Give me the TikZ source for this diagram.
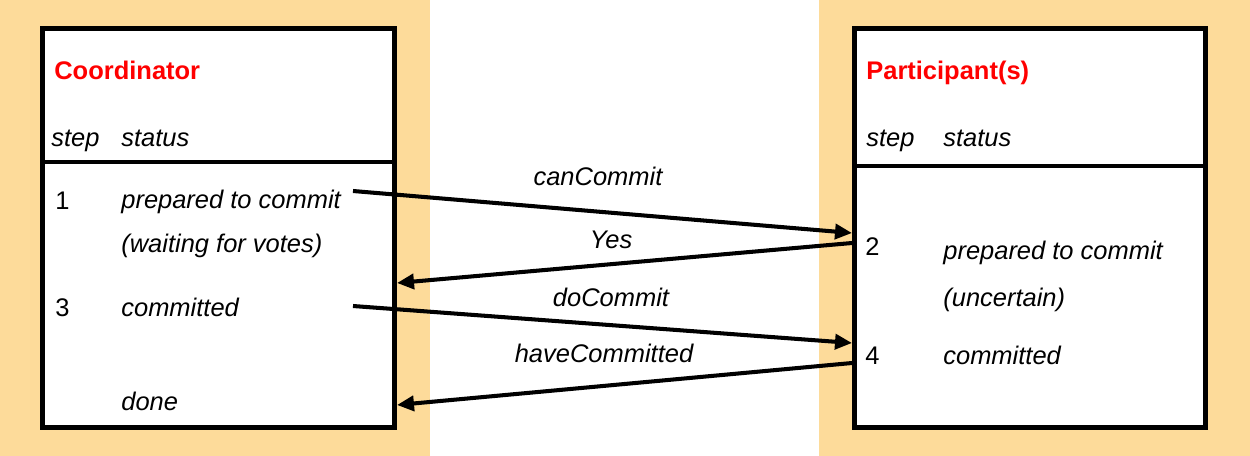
\documentclass[tikz,border=0pt]{standalone}
\usepackage{fontspec}
\setmainfont{Liberation Sans}
\usetikzlibrary{arrows.meta}
\definecolor{peach}{RGB}{253,219,154}
\definecolor{titlered}{RGB}{255,0,0}
\tikzset{
    box/.style={draw, line width=2.85pt, fill=white, minimum width=7.04cm, minimum height=7.98cm, inner sep=0pt},
    rule/.style={line width=2.3pt},
    title/.style={anchor=base west, inner sep=0pt, text=titlered, font=\fontsize{14.5}{17}\selectfont\bfseries},
    txt/.style={anchor=base west, inner sep=0pt, font=\fontsize{14.5}{17}\selectfont\itshape},
    num/.style={anchor=base west, inner sep=0pt, font=\fontsize{14.5}{17}\selectfont},
    msg/.style={anchor=base, inner sep=0pt, font=\fontsize{14.5}{17}\selectfont\itshape},
    arr/.style={line width=2.3pt, -{Triangle[length=0.34cm,width=0.3cm]}}
}
\begin{document}
\begin{tikzpicture}[x=0.02cm, y=-0.02cm]
    \useasboundingbox (0,0) rectangle (1250,456);
    \fill [peach] (0,0) rectangle (430,456);
    \fill [peach] (819,0) rectangle (1250,456);
    \node [box] (coord) at (218.5,228) {};
    \node [box] (part) at (1030,228) {};
    \draw [rule] (45,162) -- (392,162);
    \draw [rule] (857,166) -- (1203,166);

    \node [title] (coordtitle) at (54,80) {Coordinator};
    \node [txt] (cstep) at (51,146) {step};
    \node [txt] (cstatus) at (121,146) {status};
    \node [num] (c1) at (55,209) {1};
    \node [txt] (c1a) at (121,208) {prepared to commit};
    \node [txt] (c1b) at (121,252) {(waiting for votes)};
    \node [num] (c3) at (55,316) {3};
    \node [txt] (c3a) at (121,316) {committed};
    \node [txt] (cdone) at (121,410) {done};

    \node [title] (parttitle) at (866,80) {Participant(s)};
    \node [txt] (pstep) at (866,146) {step};
    \node [txt] (pstatus) at (943,146) {status};
    \node [num] (p2) at (865,255) {2};
    \node [txt] (p2a) at (943,259) {prepared to commit};
    \node [txt] (p2b) at (943,306) {(uncertain)};
    \node [num] (p4) at (865,364) {4};
    \node [txt] (p4a) at (943,364) {committed};

    \coordinate (cancommit-from) at (353,191);
    \coordinate (cancommit-to) at (852,233);
    \coordinate (yes-from) at (852,243);
    \coordinate (yes-to) at (397,283);
    \coordinate (docommit-from) at (353,306);
    \coordinate (docommit-to) at (852,343);
    \coordinate (have-from) at (852,363);
    \coordinate (have-to) at (397,405);
    \draw [arr] (cancommit-from) -- (cancommit-to);
    \draw [arr] (yes-from) -- (yes-to);
    \draw [arr] (docommit-from) -- (docommit-to);
    \draw [arr] (have-from) -- (have-to);
    \node [msg] (cancommit) at (598,185) {canCommit};
    \node [msg] (yes) at (611,248) {Yes};
    \node [msg] (docommit) at (611,306) {doCommit};
    \node [msg] (have) at (604,362) {haveCommitted};
\end{tikzpicture}
\end{document}
